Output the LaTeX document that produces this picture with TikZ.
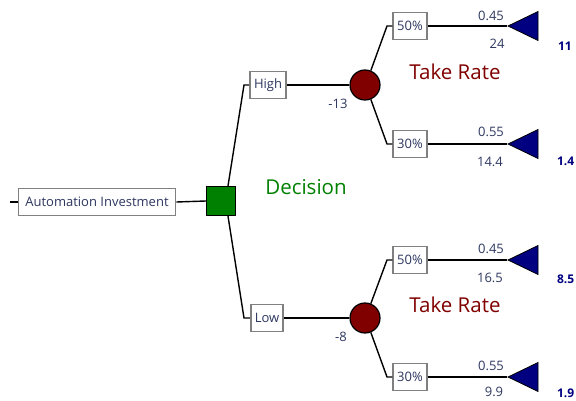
\documentclass[tikz,border=0pt]{standalone}
\usepackage{fontspec}
\setmainfont{Open Sans}
\usetikzlibrary{positioning,shapes.geometric}
\definecolor{DecGreen}{RGB}{0,128,0}
\definecolor{ChanceRed}{RGB}{128,0,0}
\definecolor{EndBlue}{RGB}{0,0,128}
\definecolor{LabelInk}{RGB}{45,55,95}
\definecolor{BoxGray}{RGB}{128,128,128}

\begin{document}
\begin{tikzpicture}[x=1pt, y=-1pt,
    every path/.style={line width=1.4pt},
    every node/.style={font=\fontsize{13}{15}\selectfont, text=LabelInk},
    branch/.style={draw=BoxGray, line width=1.6pt, fill=white, minimum height=27pt, inner xsep=4pt, inner ysep=0pt},
    decision/.style={draw, line width=1.2pt, fill=DecGreen, minimum size=29pt, inner sep=0pt},
    chance/.style={circle, draw, line width=1.2pt, fill=ChanceRed, minimum size=30pt, inner sep=0pt},
    endpoint/.style={isosceles triangle, isosceles triangle stretches, shape border rotate=180,
        draw, line width=0.8pt, fill=EndBlue, minimum width=29pt, minimum height=30pt, inner sep=0pt, anchor=apex},
    payoff/.style={font=\fontsize{12}{14}\selectfont\bfseries, text=EndBlue, anchor=west},
    title/.style={font=\fontsize{20.5}{24}\selectfont}]

    \useasboundingbox (0,0) rectangle (576,401);

    % root and decision
    \node[branch, inner xsep=7pt] (inv) at (97,202) {Automation Investment};
    \coordinate (stub) at (10,202);
    \node[decision] (dec) at (221,201) {};
    \draw (stub) -- (inv.west);
    \draw (inv.east) -- (dec.west);
    \node[title, text=DecGreen] (dectitle) at (306,187) {Decision};

    % high branch
    \node[branch] (high) at (268,85) {High};
    \coordinate (highknee) at (244,85);
    \draw ([xshift=7pt]dec.north) -- (highknee) -- (high.west);
    \node[chance] (c1) at (365,85) {};
    \draw (high.east) -- (c1.west);
    \node (ev1) at (338,104) {-13};
    \node[title, text=ChanceRed] (tr1) at (455,72) {Take Rate};

        \node[branch] (h50) at (410,26) {50\%};
        \coordinate (h50knee) at (387,26);
        \draw (c1.68) -- (h50knee) -- (h50.west);
        \node[endpoint] (t1) at (507,26) {};
        \draw (h50.east) -- (t1.apex);
        \node (p1) at (491,16) {0.45};
        \node (v1) at (497,44) {24};
        \node[payoff] (r1) at (554,46) {11};

        \node[branch] (h30) at (410,144) {30\%};
        \coordinate (h30knee) at (387,144);
        \draw (c1.-68) -- (h30knee) -- (h30.west);
        \node[endpoint] (t2) at (507,144) {};
        \draw (h30.east) -- (t2.apex);
        \node (p2) at (491,132) {0.55};
        \node (v2) at (490,162) {14.4};
        \node[payoff] (r2) at (553,161) {1.4};

    % low branch
    \node[branch] (low) at (267,318) {Low};
    \coordinate (lowknee) at (244,318);
    \draw ([xshift=7pt]dec.south) -- (lowknee) -- (low.west);
    \node[chance] (c2) at (365,318) {};
    \draw (low.east) -- (c2.west);
    \node (ev2) at (341,337) {-8};
    \node[title, text=ChanceRed] (tr2) at (455,305) {Take Rate};

        \node[branch] (l50) at (410,260) {50\%};
        \coordinate (l50knee) at (387,260);
        \draw (c2.68) -- (l50knee) -- (l50.west);
        \node[endpoint] (t3) at (507,260) {};
        \draw (l50.east) -- (t3.apex);
        \node (p3) at (491,249) {0.45};
        \node (v3) at (490,278) {16.5};
        \node[payoff] (r3) at (553,279) {8.5};

        \node[branch] (l30) at (410,377) {30\%};
        \coordinate (l30knee) at (387,377);
        \draw (c2.-68) -- (l30knee) -- (l30.west);
        \node[endpoint] (t4) at (507,377) {};
        \draw (l30.east) -- (t4.apex);
        \node (p4) at (491,366) {0.55};
        \node (v4) at (494,392) {9.9};
        \node[payoff] (r4) at (553,393) {1.9};

\end{tikzpicture}
\end{document}
